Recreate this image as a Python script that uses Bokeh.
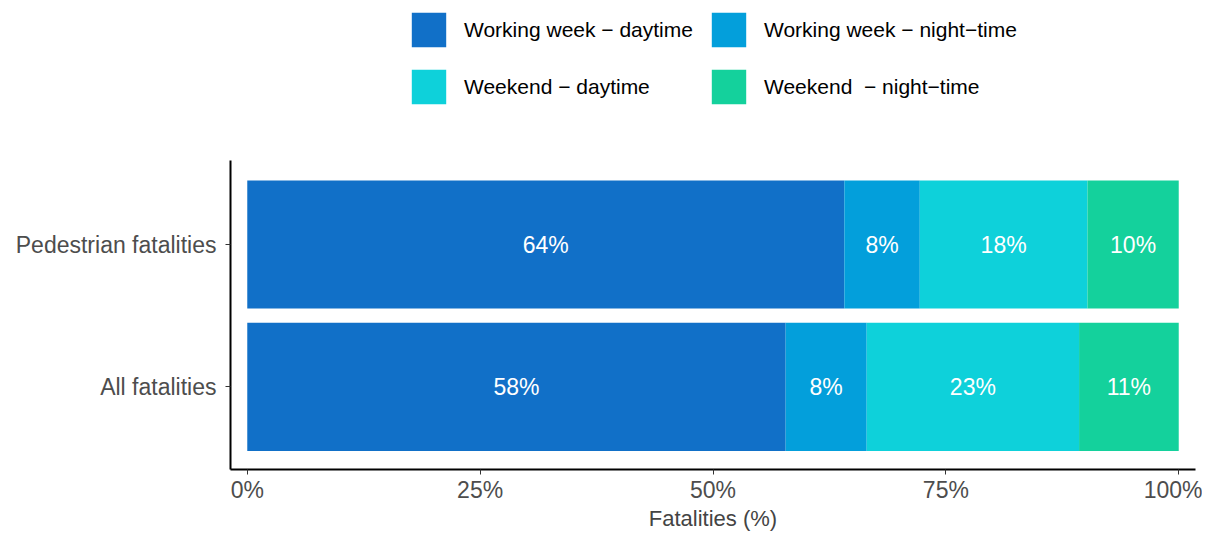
from bokeh.plotting import figure
from bokeh.layouts import column
from bokeh.models import ColumnDataSource, Legend, FixedTicker
from bokeh.core.properties import value
from bokeh.embed import file_html
from bokeh.resources import INLINE
import numpy as np

groups = ["All fatalities", "Pedestrian fatalities"]
series = ["Working week \u2212 daytime", "Working week \u2212 night\u2212time",
          "Weekend \u2212 daytime", "Weekend  \u2212 night\u2212time"]
colors = ["#1170c8", "#039fdb", "#0ed1da", "#14d19c"]
# shares per series, order: All, Pedestrian
values = [[57.8, 64.1], [8.7, 8.1], [22.8, 18.0], [10.7, 9.8]]
labels = [["58%", "64%"], ["8%", "8%"], ["23%", "18%"], ["11%", "10%"]]

FONT = "Liberation Sans"

# main chart
p = figure(width=1202, height=388, output_backend="svg", toolbar_location=None,
           x_range=(-1.8, 101.8), y_range=(0.42, 2.59),
           min_border_left=230, min_border_right=7, min_border_top=15,
           min_border_bottom=50)

ypos = np.array([1, 2])
left = np.zeros(2)
for c, v, lab in zip(colors, values, labels):
    v = np.array(v)
    src = ColumnDataSource(dict(y=ypos, left=left, right=left + v,
                                mid=left + v / 2, lab=lab))
    p.hbar(y="y", left="left", right="right", height=0.9, color=c,
           line_color=None, source=src)
    p.text(x="mid", y="y", text="lab", source=src, text_color="white",
           text_align="center", text_baseline="middle", text_font_size="23px",
           text_font=value(FONT))
    left = left + v

p.xaxis.ticker = FixedTicker(ticks=[0, 25, 50, 75, 100])
p.xaxis.major_label_overrides = {0: "0%", 25: "25%", 50: "50%", 75: "75%", 100: "100%"}
p.yaxis.ticker = FixedTicker(ticks=[1, 2])
p.yaxis.major_label_overrides = {1: groups[0], 2: groups[1]}
p.xaxis.axis_label = "Fatalities (%)"
for ax in (p.xaxis, p.yaxis):
    ax.axis_line_width = 2
    ax.axis_line_color = "black"
    ax.major_tick_in = 0
    ax.major_tick_out = 5
    ax.major_tick_line_color = "#333333"
    ax.minor_tick_line_color = None
    ax.major_label_text_font_size = "23px"
    ax.major_label_text_color = "#4d4d4d"
    ax.major_label_text_font = FONT
p.yaxis.major_label_standoff = 9
p.xaxis.major_label_standoff = 2
p.xaxis.axis_label_text_font_size = "22px"
p.xaxis.axis_label_text_font_style = "normal"
p.xaxis.axis_label_text_font = FONT
p.xaxis.axis_label_standoff = 0
p.grid.visible = False
p.outline_line_color = None

# legend strip
lg = figure(width=1202, height=145, output_backend="svg", toolbar_location=None,
            x_range=(0, 1), y_range=(0, 1), min_border=0)
lg.axis.visible = False
lg.grid.visible = False
lg.outline_line_color = None
rs = [lg.rect(x=[-5], y=[-5], width=1, height=1, color=c, line_color=None)
      for c in colors]
order = [0, 2, 1, 3]
legend = Legend(items=[(series[i], [rs[i]]) for i in order], ncols=2,
                location=(177, 37), glyph_width=43, glyph_height=43,
                label_standoff=14, spacing=14, label_text_font_size="21px",
                label_text_font=FONT, label_text_color="black",
                border_line_color=None, background_fill_alpha=0, padding=0,
                margin=0)
lg.add_layout(legend)

layout = column(lg, p, spacing=0)
open("out.html", "w").write(file_html(layout, INLINE))
